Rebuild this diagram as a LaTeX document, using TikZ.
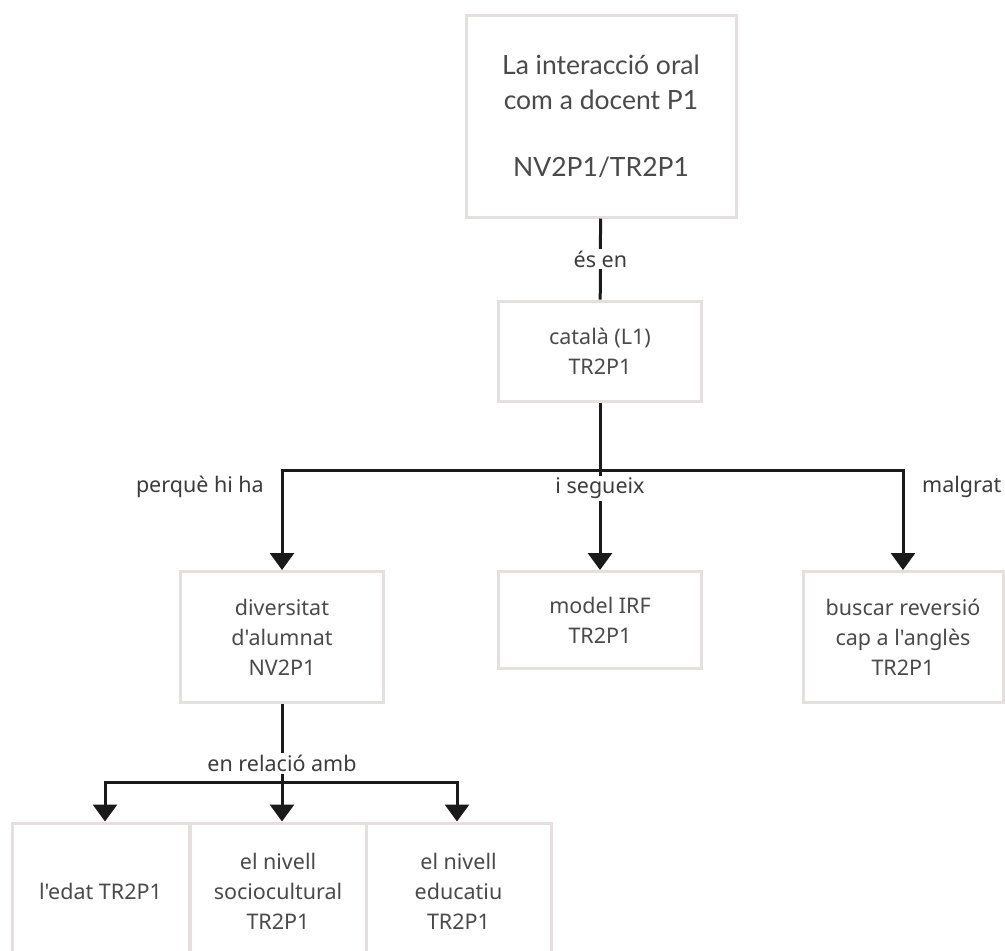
\documentclass[tikz,border=0pt]{standalone}
\usepackage{fontspec}
\setmainfont{Noto Sans}[Ligatures=TeXOff]
\newfontfamily\latofont{Lato}[Ligatures=TeXOff]
\usetikzlibrary{arrows.meta}
\definecolor{boxline}{HTML}{E4E0E0}
\definecolor{txt}{HTML}{4A4A4A}
\definecolor{ink}{HTML}{1A1A1A}
\tikzset{
  box/.style={draw=boxline, line width=3pt, fill=white, text=txt, align=center,
    inner sep=0pt, font=\fontsize{21.5}{30}\selectfont},
  lbl/.style={fill=white, text=ink!85, inner sep=2pt, font=\fontsize{21.5}{24}\selectfont},
  side/.style={text=ink!85, inner sep=0pt, font=\fontsize{21.5}{24}\selectfont},
  wire/.style={draw=ink, line width=3pt},
  arr/.style={wire, -{Triangle[width=24pt,length=17pt]}},
}
\begin{document}
\begin{tikzpicture}[x=1pt,y=1pt]
\useasboundingbox[fill=white] (0,0) rectangle (1005,-951);

% boxes
\node[box, minimum width=270pt, minimum height=202pt, font=\latofont\fontsize{26.5}{35}\selectfont]
  (top) at (601,-116) {La interacció oral\\com a docent P1\\[32pt]NV2P1/TR2P1};
\node[box, minimum width=203pt, minimum height=100pt] (cat) at (600,-351) {català (L1)\\TR2P1};
\node[box, minimum width=203pt, minimum height=131pt] (div) at (282,-637) {diversitat\\d'alumnat\\NV2P1};
\node[box, minimum width=203pt, minimum height=97pt] (irf) at (600,-620) {model IRF\\TR2P1};
\node[box, minimum width=200pt, minimum height=131pt] (rev) at (903,-637) {buscar reversió\\cap a l'anglès\\TR2P1};
\node[box, minimum width=177pt, minimum height=136pt] (edat) at (100.5,-891) {l'edat TR2P1};
\node[box, minimum width=176pt, minimum height=136pt] (soc) at (278,-891) {el nivell\\sociocultural\\TR2P1};
\node[box, minimum width=185pt, minimum height=136pt] (edu) at (458.5,-891) {el nivell\\educatiu\\TR2P1};

% junction points
\coordinate (j1) at (600,-470);
\coordinate (j2) at (282,-782);

% connectors
\draw[wire] (top) -- node[lbl]{és en} (cat);
\draw[wire] (cat) -- (j1);
\draw[arr] (j1) -| (div.north);
\draw[arr] (j1) -- node[lbl, pos=0.18]{i segueix} (irf.north);
\draw[arr] (j1) -| (rev.north);
\draw[wire] (div) -- node[lbl, pos=0.76]{en relació amb} (j2);
\draw[arr] (j2) -| ([xshift=4.5pt]edat.north);
\draw[arr] (j2) -- ([xshift=4pt]soc.north);
\draw[arr] (j2) -| ([xshift=-1.5pt]edu.north);

% side labels
\node[side, anchor=east] (why) at (264,-487) {perquè hi ha};
\node[side, anchor=west] (despite) at (922,-487) {malgrat};
\end{tikzpicture}
\end{document}
